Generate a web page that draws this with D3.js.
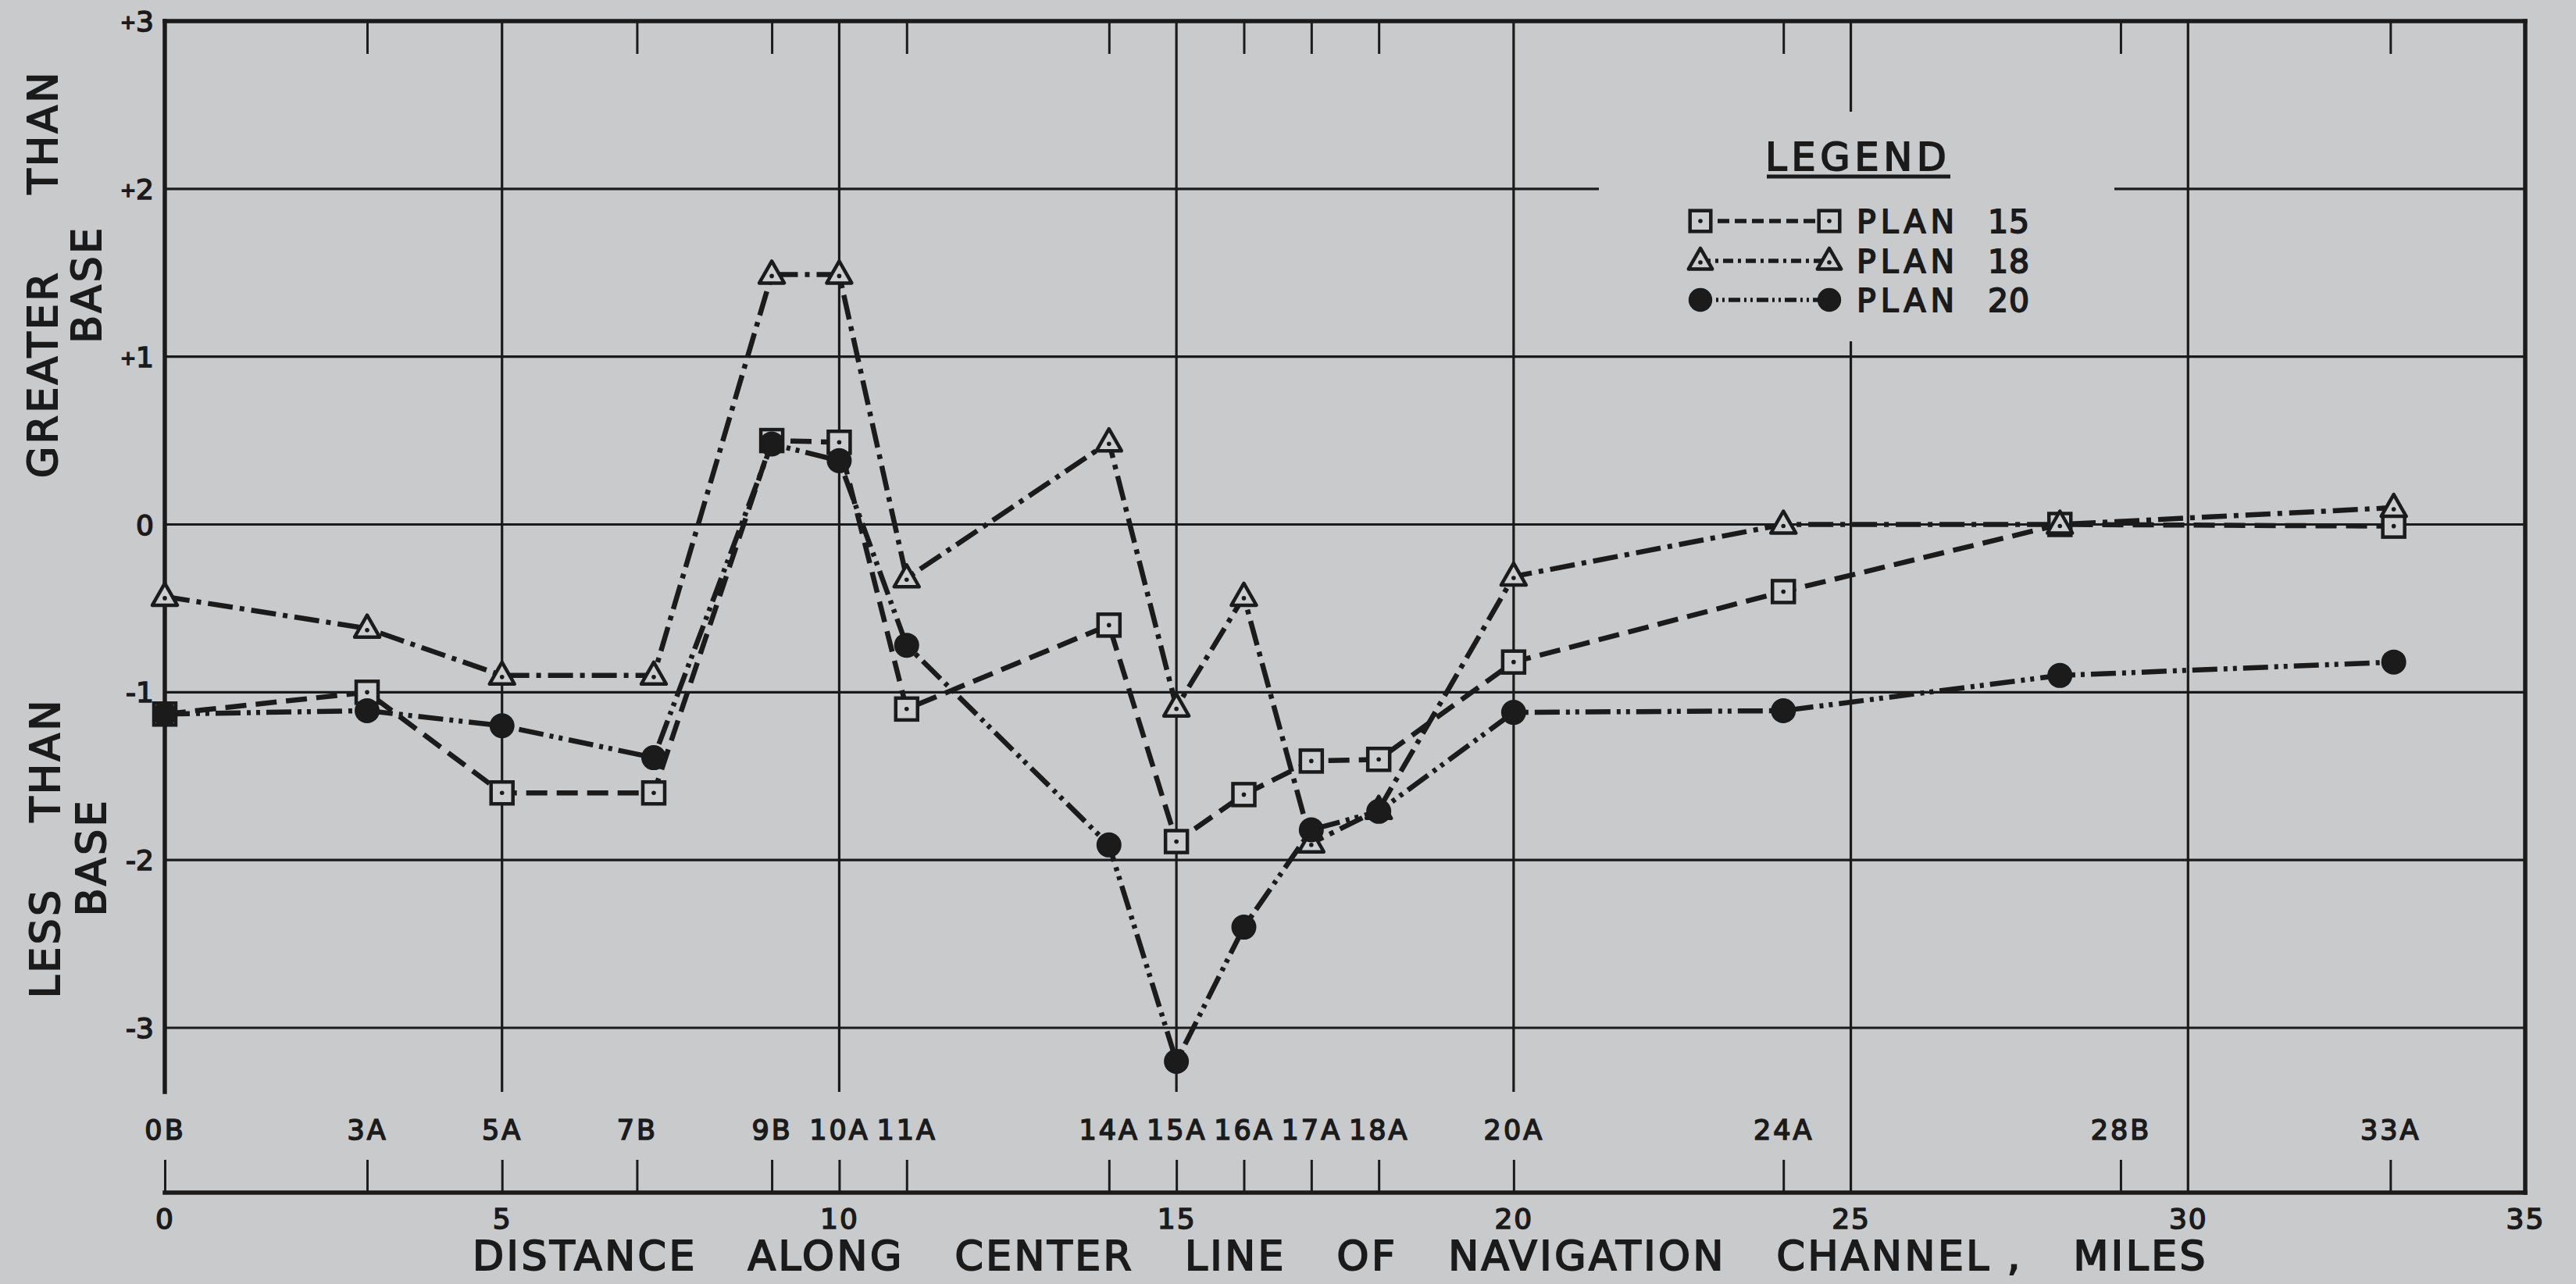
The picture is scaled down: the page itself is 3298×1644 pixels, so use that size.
<!DOCTYPE html>
<html><head><meta charset="utf-8">
<script src="https://cdn.jsdelivr.net/npm/d3@7"></script>
<style>
html,body{margin:0;padding:0;background:#c9cacc;}
svg{display:block;}
</style></head><body>
<svg id="chart" width="3298" height="1644"></svg>
<script>
// ---------------- DATA ----------------
const stations         = ["0B","3A","5A","7B","9B","10A","11A","14A","15A","16A","17A","18A","20A","24A","28B","33A"];
const stationMiles     = [0, 3, 5, 7.25, 9, 10, 11, 14, 15, 16, 17, 18, 20, 24, 28.1, 33.05];   // where the points are plotted
const stationTickMiles = [0, 3, 5, 7, 9, 10, 11, 14, 15, 16, 17, 18, 20, 24, 29, 33];           // where the station ticks/labels sit
const plan15 = [-1.13, -1.00, -1.60, -1.60, 0.50, 0.49, -1.10, -0.60, -1.89, -1.61, -1.41, -1.40, -0.82, -0.40, 0.00, -0.01];
const plan18 = [-0.43, -0.62, -0.90, -0.90, 1.49, 1.49, -0.32, 0.49, -1.09, -0.43, -1.90, -1.70, -0.31, 0.00, 0.00, 0.10];
const plan20 = [-1.13, -1.11, -1.20, -1.39, 0.48, 0.38, -0.72, -1.91, -3.20, -2.40, -1.82, -1.71, -1.12, -1.11, -0.90, -0.82];
const seriesNames = ["PLAN 15", "PLAN 18", "PLAN 20"];
const xTicks = [0, 5, 10, 15, 20, 25, 30, 35];
const yTicks = [-3, -2, -1, 0, 1, 2, 3];
const yTickLabels = ["-3", "-2", "-1", "0", "+1", "+2", "+3"];
const xTitle = "DISTANCE ALONG CENTER LINE OF NAVIGATION CHANNEL , MILES";
const yTitleUpper = ["GREATER THAN", "BASE"];
const yTitleLower = ["LESS THAN", "BASE"];
const legendTitle = "LEGEND";

// ---------------- SETUP ----------------
const W = 3298, H = 1644;
const ink = "#1b1b1b", paper = "#c9cacc", markFill = "#cdcecf";
const FONT = "'DejaVu Sans', 'Liberation Sans', sans-serif";
const svg = d3.select("#chart");
const x = d3.scaleLinear().domain([0, 35]).range([211, 3233]);
const y = d3.scaleLinear().domain([-3, 3]).range([1316, 27]);
const gridBottom = 1398, axisY = 1527;

svg.append("rect").attr("width", W).attr("height", H).attr("fill", paper);

// legend cut-out for grid lines
const defs = svg.append("defs");
const mask = defs.append("mask").attr("id", "legendGap").attr("maskUnits", "userSpaceOnUse")
  .attr("x", 0).attr("y", 0).attr("width", W).attr("height", H);
mask.append("rect").attr("width", W).attr("height", H).attr("fill", "#fff");
mask.append("rect").attr("x", 2047).attr("y", 143).attr("width", 660).attr("height", 294).attr("fill", "#000");

// ---------------- GRID ----------------
const grid = svg.append("g").attr("mask", "url(#legendGap)").attr("stroke", ink).attr("stroke-width", 3.2);
grid.selectAll("line.h").data(yTicks.filter(v => v < 3)).join("line").attr("class", "h")
  .attr("x1", x(0)).attr("x2", x(35)).attr("y1", d => y(d)).attr("y2", d => y(d));
grid.selectAll("line.v").data(xTicks.filter(v => v > 0 && v < 35)).join("line").attr("class", "v")
  .attr("x1", d => x(d)).attr("x2", d => x(d)).attr("y1", y(3))
  .attr("y2", d => stationTickMiles.includes(d) ? gridBottom : axisY);

// frame
const frame = svg.append("g").attr("stroke", ink).attr("stroke-width", 5.5).attr("stroke-linecap", "square");
frame.append("line").attr("x1", x(0)).attr("x2", x(35)).attr("y1", y(3)).attr("y2", y(3));
frame.append("line").attr("x1", x(0)).attr("x2", x(0)).attr("y1", y(3)).attr("y2", gridBottom);
frame.append("line").attr("x1", x(35)).attr("x2", x(35)).attr("y1", y(3)).attr("y2", axisY);
frame.append("line").attr("x1", x(0)).attr("x2", x(35)).attr("y1", axisY).attr("y2", axisY);

// top station ticks
const topAxis = d3.axisBottom(x).tickValues(stationTickMiles.filter(m => !xTicks.includes(m)))
  .tickSize(42).tickFormat("");
const gTop = svg.append("g").attr("transform", `translate(0,${y(3)})`).call(topAxis);
gTop.select(".domain").remove();
gTop.selectAll(".tick line").attr("stroke", ink).attr("stroke-width", 3);

// bottom station ticks + labels
const stAxis = d3.axisTop(x).tickValues(stationTickMiles)
  .tickFormat(d => stations[stationTickMiles.indexOf(d)]).tickSize(42).tickPadding(26);
const gSt = svg.append("g").attr("transform", `translate(0,${axisY})`).call(stAxis);
gSt.select(".domain").remove();
gSt.attr("font-family", FONT).attr("font-size", 35);
gSt.selectAll(".tick line").attr("stroke", ink).attr("stroke-width", 3);
gSt.selectAll(".tick text").attr("fill", ink).attr("letter-spacing", 3).attr("stroke", ink).attr("stroke-width", 1.6);

// bottom mile numbers
const mAxis = d3.axisBottom(x).tickValues(xTicks).tickSize(0).tickPadding(20).tickFormat(d3.format("d"));
const gM = svg.append("g").attr("transform", `translate(0,${axisY})`).call(mAxis);
gM.select(".domain").remove();
gM.attr("font-family", FONT).attr("font-size", 36);
gM.selectAll(".tick text").attr("fill", ink).attr("letter-spacing", 2).attr("stroke", ink).attr("stroke-width", 1.6);

// y tick labels
const yl = svg.append("g").attr("font-family", FONT).attr("font-size", 36).attr("fill", ink)
  .attr("stroke", ink).attr("stroke-width", 1.6).attr("text-anchor", "end");
yl.selectAll("text").data(yTicks).join("text")
  .attr("x", 197).attr("y", d => y(d) + 13)
  .each(function (d, i) {
    const lab = yTickLabels[i];
    const t = d3.select(this);
    if (lab.startsWith("+")) {
      t.append("tspan").attr("font-size", 24).attr("dy", -3).text("+");
      t.append("tspan").attr("dy", 3).text(lab.slice(1));
    } else t.text(lab);
  });

// ---------------- TITLES ----------------
function spreadWords(g, words, x0, x1, baseY, size, ls) {
  const texts = g.selectAll(null).data(words).join("text")
    .attr("y", baseY).attr("font-size", size).attr("letter-spacing", ls).text(d => d);
  const widths = texts.nodes().map(n => n.getComputedTextLength());
  const gap = words.length > 1 ? (x1 - x0 - d3.sum(widths)) / (words.length - 1) : 0;
  let cx = words.length > 1 ? x0 : (x0 + x1 - widths[0]) / 2;
  texts.attr("x", (d, i) => { const v = cx; cx += widths[i] + gap; return v; });
}
const tStyle = g => g.attr("font-family", FONT).attr("fill", ink).attr("stroke", ink).attr("stroke-width", 2);

const gx = svg.append("g").call(tStyle);
spreadWords(gx, xTitle.split(" ").reduce((a, w) => { if (w === ",") a[a.length - 1] += " ,"; else a.push(w); return a; }, []),
  605, 2827, 1626, 52, 3.5);

const yTitleBlocks = [
  { words: yTitleUpper[0].split(" "), bx: 73, from: 612, to: 89 },
  { words: [yTitleUpper[1]], bx: 129, from: 442, to: 286 },
  { words: yTitleLower[0].split(" "), bx: 76, from: 1278, to: 893 },
  { words: [yTitleLower[1]], bx: 135, from: 1176, to: 1019 }
];
yTitleBlocks.forEach(b => {
  const g = svg.append("g").attr("transform", `translate(${b.bx},${b.from}) rotate(-90)`).call(tStyle);
  spreadWords(g, b.words, 0, b.from - b.to, 0, 52, 3.5);
});

// ---------------- SERIES ----------------
const series = [
  { name: seriesNames[0], values: plan15, marker: "square",   dash: "27 12" },
  { name: seriesNames[1], values: plan18, marker: "triangle", dash: "32 9 6 9" },
  { name: seriesNames[2], values: plan20, marker: "circle",   dash: "32 8 5 7 5 8" }
];
const line = d3.line().x(d => x(d.m)).y(d => y(d.v));
const pts = s => stations.map((st, i) => ({ st, m: stationMiles[i], v: s.values[i] }));

const gLines = svg.append("g").attr("fill", "none").attr("stroke", ink).attr("stroke-width", 6.5);
series.forEach(s => gLines.append("path").datum(pts(s)).attr("d", line).attr("stroke-dasharray", s.dash));

function drawMarker(g, type, k = 1) {
  if (type === "square") {
    g.append("rect").attr("x", -14 * k).attr("y", -14 * k).attr("width", 28 * k).attr("height", 28 * k)
      .attr("fill", markFill).attr("stroke", ink).attr("stroke-width", 4.5);
    g.append("circle").attr("r", 2.8).attr("fill", ink);
  } else if (type === "triangle") {
    g.append("path").attr("d", `M0,${-17 * k} L${16 * k},${11 * k} L${-16 * k},${11 * k} Z`)
      .attr("fill", markFill).attr("stroke", ink).attr("stroke-width", 4.5).attr("stroke-linejoin", "round");
    g.append("circle").attr("cy", 2).attr("r", 2.8).attr("fill", ink);
  } else {
    g.append("circle").attr("r", 16 * k).attr("fill", ink);
  }
}
const gMarks = svg.append("g");
series.forEach(s => {
  gMarks.selectAll(null).data(pts(s)).join("g")
    .attr("transform", d => `translate(${x(d.m)},${y(d.v)})`)
    .each(function () { drawMarker(d3.select(this), s.marker); });
});

// ---------------- LEGEND ----------------
const lg = svg.append("g").attr("font-family", FONT).attr("fill", ink);
lg.append("text").attr("x", 2379).attr("y", 218).attr("text-anchor", "middle")
  .attr("font-size", 49).attr("letter-spacing", 6).attr("stroke", ink).attr("stroke-width", 2).text(legendTitle);
lg.append("line").attr("x1", 2262).attr("x2", 2497).attr("y1", 226).attr("y2", 226)
  .attr("stroke", ink).attr("stroke-width", 5);
const rowY = [283, 334, 384];
series.forEach((s, i) => {
  const r = lg.append("g").attr("transform", `translate(0,${rowY[i]})`);
  r.append("line").attr("x1", 2177).attr("x2", 2342).attr("stroke", ink).attr("stroke-width", 5.5)
    .attr("stroke-dasharray", s.marker === "square" ? "15 7" : s.marker === "triangle" ? "13 6 4 6" : "15 5 3 5 3 5");
  drawMarker(r.append("g").attr("transform", "translate(2177,0)"), s.marker, 0.95);
  drawMarker(r.append("g").attr("transform", "translate(2342,0)"), s.marker, 0.95);
  const parts = s.name.split(" ");
  const t = r.append("text").attr("y", 15).attr("font-size", 41).attr("stroke", ink).attr("stroke-width", 1.8);
  t.append("tspan").attr("x", 2377).attr("letter-spacing", 6).text(parts[0]);
  t.append("tspan").attr("x", 2545).attr("letter-spacing", 1).text(parts[1]);
});
</script>
</body></html>
